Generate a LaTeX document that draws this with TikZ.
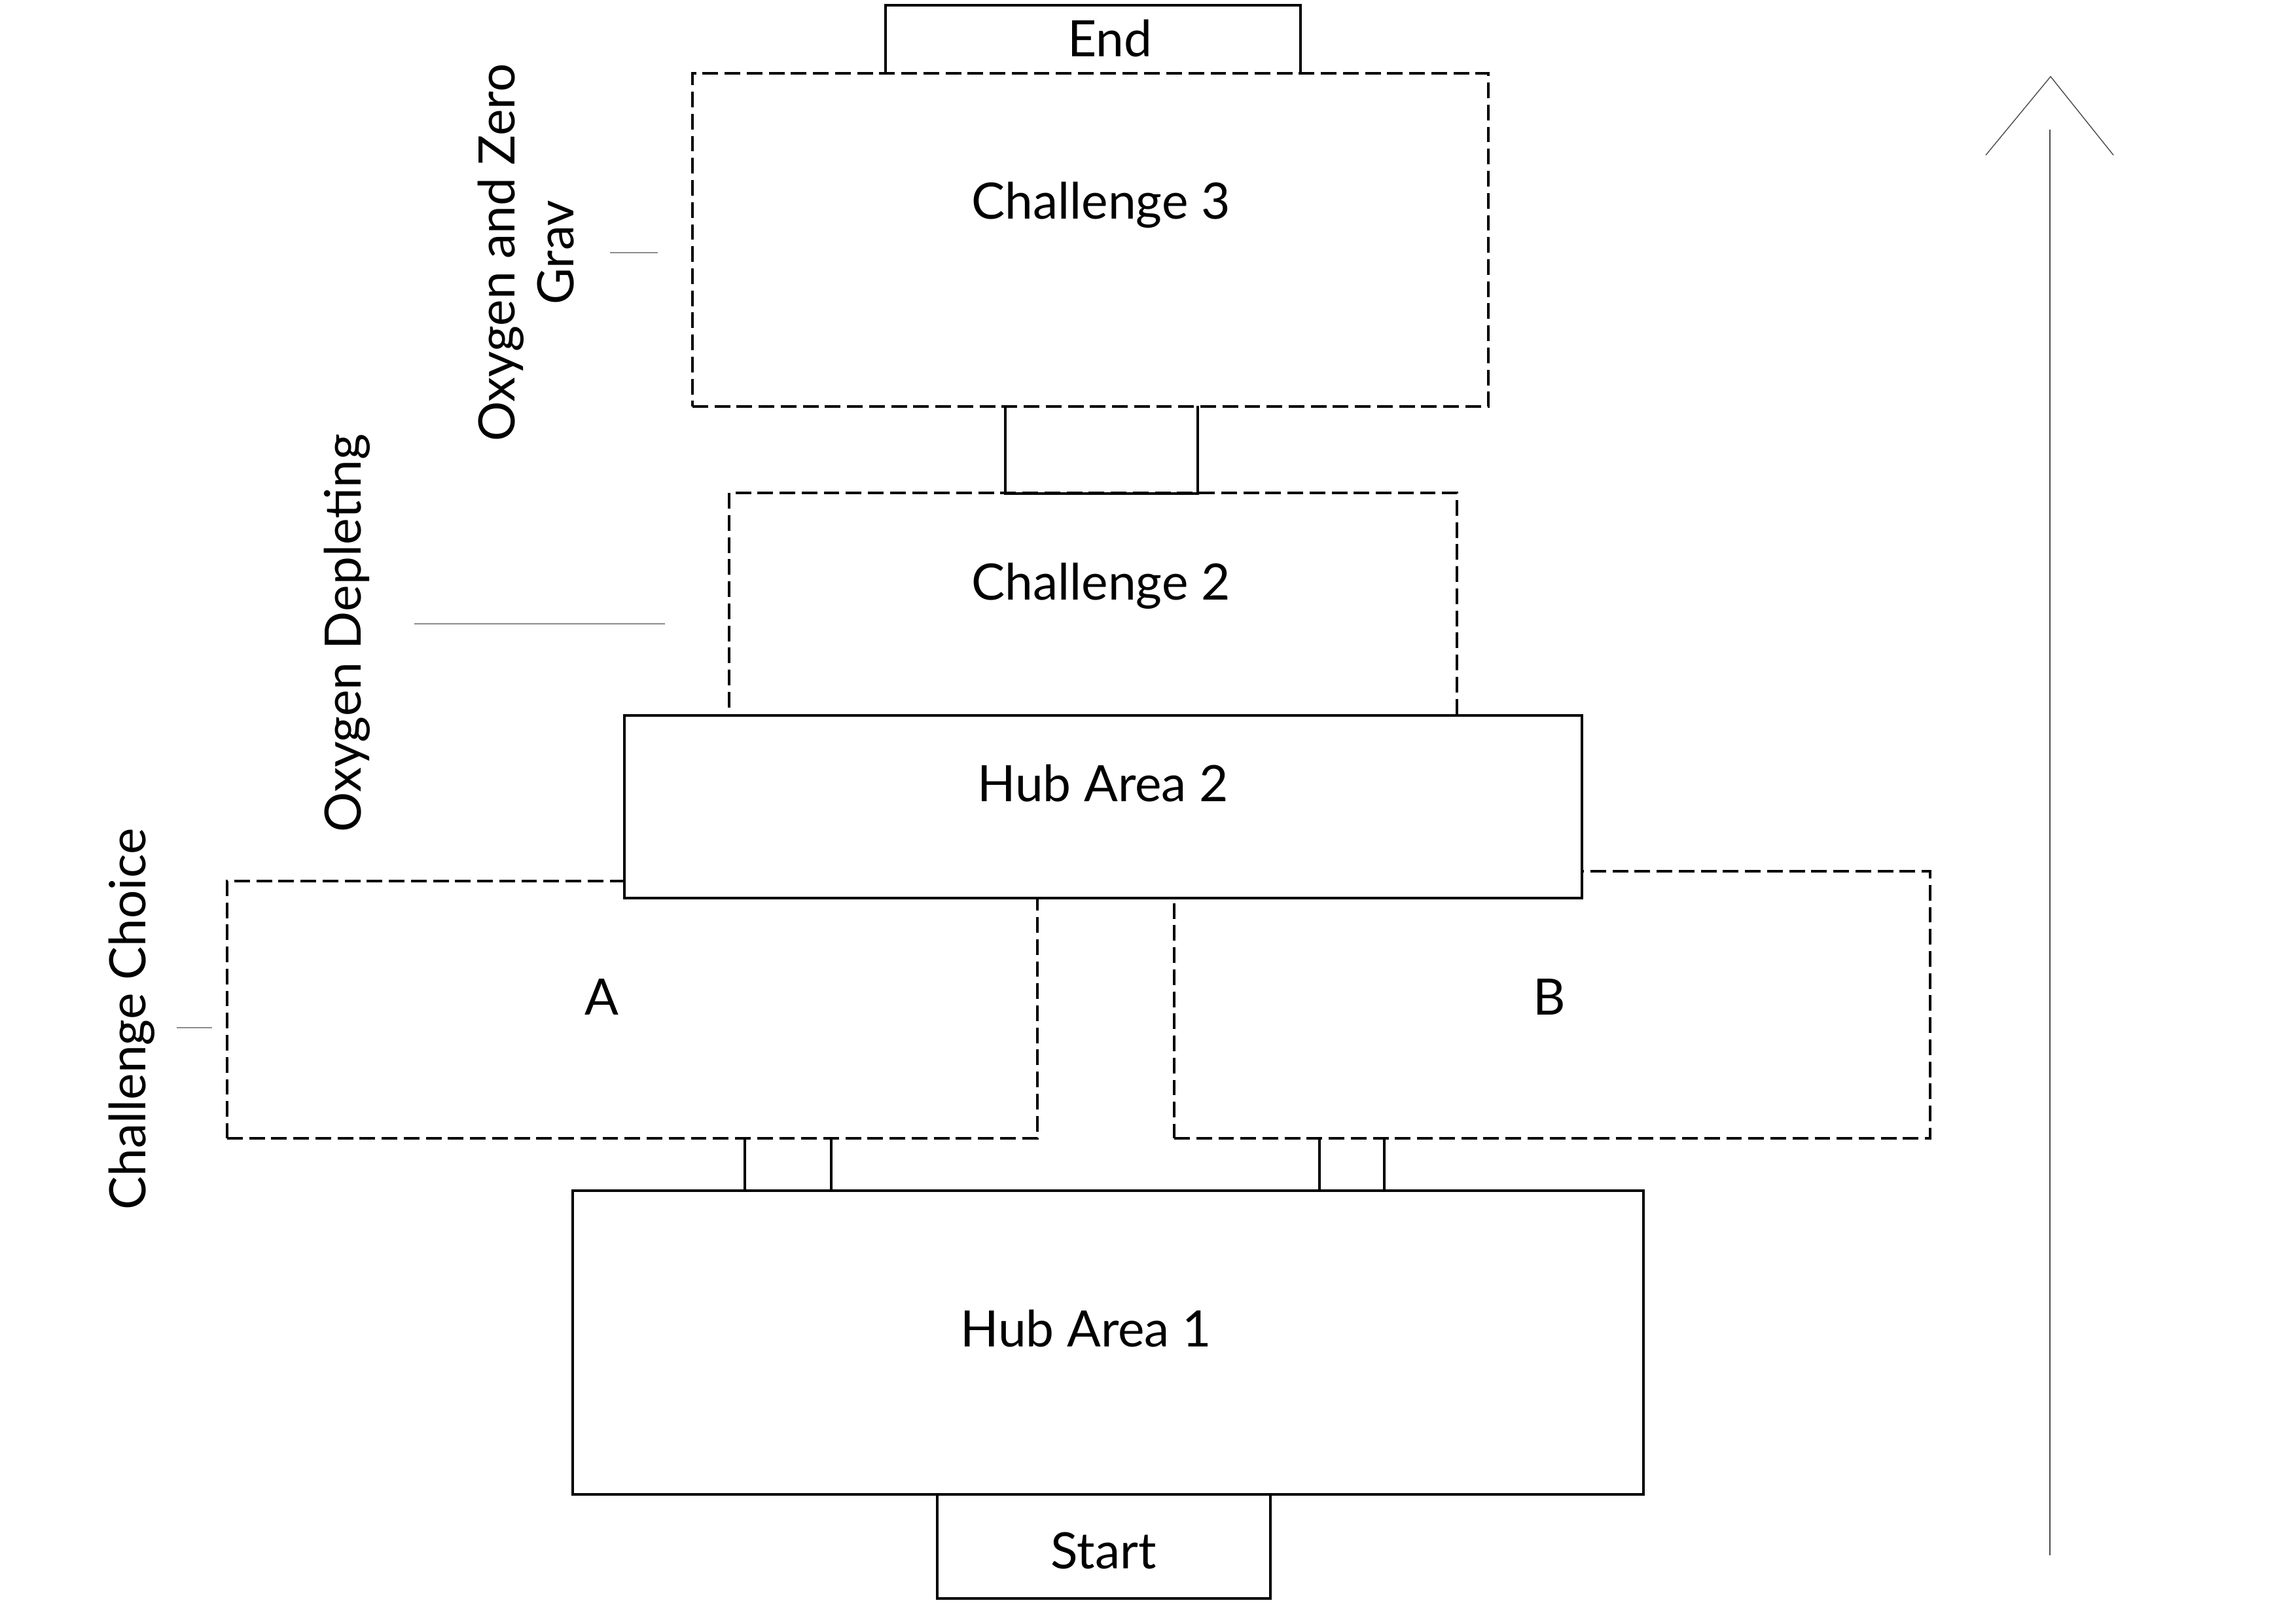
\documentclass[tikz,border=0pt]{standalone}
\usepackage{fontspec}
\setmainfont{Lato}
\usepackage{tikz}
\usetikzlibrary{positioning,calc}

\begin{document}
\begin{tikzpicture}[
    hub/.style={
      draw=black,
      fill=white,
      line width=1.1pt,
      inner sep=0pt
    },
    zone/.style={
      draw=black,
      line width=1.1pt,
      dash pattern=on 6.8pt off 2.8pt,
      inner sep=0pt
    },
    gate/.style={
      inner sep=0pt
    },
    wall/.style={
      line width=1.1pt
    },
    tag/.style={
      font=\fontsize{21.8}{25.6}\selectfont,
      inner sep=0pt
    },
    side/.style={
      tag,
      rotate=90,
      align=center
    },
    tick/.style={
      line width=0.4pt,
      color=black!45
    },
    flow/.style={
      line width=0.4pt,
      color=black!70
    }
  ]

  \useasboundingbox (0,0) rectangle (35.08,24.80);

  % End and Challenge 3
  \node[gate, minimum width=6.32cm, minimum height=1.01cm] (end) at (16.70,24.205) {};
  \draw[wall] (end.south west) |- (end.north east) -- (end.south east);
  \node[zone, minimum width=12.16cm, minimum height=5.09cm] (c3) at (16.66,21.135) {};

  % Passage 3-2
  \node[gate, minimum width=2.92cm, minimum height=1.32cm] (p32) at (16.83,17.93) {};
  \draw[wall] (p32.north west) |- (p32.south east) -- (p32.north east);

  % Challenge 2, A, B
  \node[zone, minimum width=11.12cm, minimum height=3.40cm] (c2) at (16.70,15.57) {};
  \node[zone, minimum width=12.38cm, minimum height=3.93cm] (a) at (9.66,9.375) {};
  \node[zone, minimum width=11.55cm, minimum height=4.08cm] (b) at (23.715,9.45) {};

  % Hub Area 2
  \node[hub, minimum width=14.63cm, minimum height=2.79cm] (hub2) at (16.855,12.475) {};

  % Passages A, B
  \node[gate, minimum width=1.30cm, minimum height=0.80cm] (pa) at (12.04,7.01) {};
  \draw[wall] (pa.north west) |- (pa.south east) -- (pa.north east);
  \node[gate, minimum width=0.97cm, minimum height=0.80cm] (pb) at (20.655,7.01) {};
  \draw[wall] (pb.north west) |- (pb.south east) -- (pb.north east);

  % Hub Area 1 and Start
  \node[hub, minimum width=16.36cm, minimum height=4.64cm] (hub1) at (16.93,4.29) {};
  \node[hub, minimum width=5.09cm, minimum height=1.59cm] (start) at (16.865,1.175) {};

  % Names
  \node[tag, anchor=base] (end-name) at (16.96,23.93) {End};
  \node[tag, anchor=base] (c3-name) at (16.82,21.45) {Challenge 3};
  \node[tag, anchor=base] (c2-name) at (16.82,15.63) {Challenge 2};
  \node[tag, anchor=base] (hub2-name) at (16.85,12.55) {Hub Area 2};
  \node[tag, anchor=base] (a-name) at (9.19,9.29) {A};
  \node[tag, anchor=base] (b-name) at (23.67,9.29) {B};
  \node[tag, anchor=base] (hub1-name) at (16.59,4.22) {Hub Area 1};
  \node[tag, anchor=base] (start-name) at (16.86,0.83) {Start};

  % Side labels
  \node[side] (ox3) at (8.04,20.94) {Oxygen and Zero\\Grav};
  \node[side] (ox2) at (5.30,15.13) {Oxygen Depleting};
  \node[side] (cc) at (2.01,9.23) {Challenge Choice};

  \coordinate (ox3-t) at (9.32,20.94);
  \coordinate (ox2-t) at (6.33,15.27);
  \coordinate (cc-t) at (2.70,9.10);
  \draw[tick, shorten >=0.51cm] (ox3-t) -- (ox3-t -| c3.west);
  \draw[tick, shorten >=0.96cm] (ox2-t) -- (ox2-t -| c2.west);
  \draw[tick, shorten >=0.21cm] (cc-t) -- (cc-t -| a.west);

  % Direction arrow
  \coordinate (flow-bot) at (31.32,1.04);
  \coordinate (flow-top) at (31.32,22.82);
  \draw[flow] (flow-bot) -- (flow-top);
  \draw[flow] (30.34,22.43) -- (31.33,23.63) -- (32.29,22.43);

\end{tikzpicture}
\end{document}
